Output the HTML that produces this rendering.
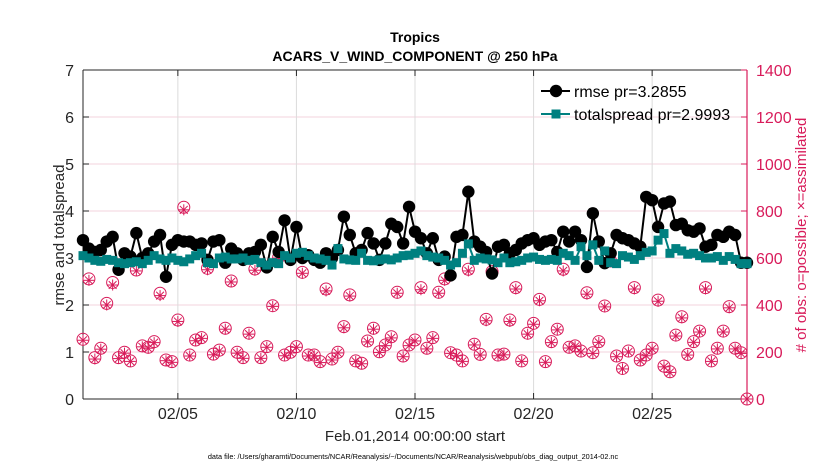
<!DOCTYPE html>
<html><head><meta charset="utf-8"><style>
body{margin:0;background:#fff;}
svg{display:block;font-family:"Liberation Sans",Helvetica,Arial,sans-serif;}
</style></head><body>
<svg id="chart" width="830" height="470" viewBox="0 0 830 470" xmlns="http://www.w3.org/2000/svg">
<text x="415" y="42" text-anchor="middle" font-size="14" font-weight="bold" fill="#000">Tropics</text>
<text x="415" y="61" text-anchor="middle" font-size="14" font-weight="bold" fill="#000">ACARS_V_WIND_COMPONENT @ 250 hPa</text>
<g id="grid"></g>
<g id="axes"></g>
<g id="marks"></g>
<text transform="translate(64,235) rotate(-90)" text-anchor="middle" font-size="15" fill="#262626">rmse and totalspread</text>
<text transform="translate(806,235) rotate(-90)" text-anchor="middle" font-size="15" fill="#d81b5a">#  of obs: o=possible; ×=assimilated</text>
<text x="415" y="441" text-anchor="middle" font-size="15" fill="#262626">Feb.01,2014 00:00:00 start</text>
<text x="413" y="459" text-anchor="middle" font-size="7.3" fill="#000">data file: /Users/gharamti/Documents/NCAR/Reanalysis/~/Documents/NCAR/Reanalysis/webpub/obs_diag_output_2014-02.nc</text>
<g id="legend"></g>
</svg>
<script>
const xTickLabels = ["02/05","02/10","02/15","02/20","02/25"];
const xTickDays = [4,9,14,19,24];
const leftTicks = [0,1,2,3,4,5,6,7];
const rightTicks = [0,200,400,600,800,1000,1200,1400];
const rmse = [3.38,3.2,3.13,3.17,3.35,3.45,2.75,3.1,3.03,3.53,
3.0,3.1,3.35,3.49,2.6,3.28,3.38,3.35,3.35,3.28,
3.31,2.96,3.35,3.38,2.9,3.2,3.1,2.96,3.1,3.13,
3.28,2.8,3.45,3.13,3.8,2.96,3.66,3.0,3.06,
2.96,2.9,3.1,3.0,3.17,3.88,3.49,3.1,3.17,3.53,3.31,
2.96,3.31,3.73,3.66,3.31,4.09,3.56,3.42,3.1,3.42,
2.96,3.03,2.63,3.45,3.49,4.41,3.35,3.24,3.13,2.67,
3.24,3.28,3.1,3.17,3.31,3.38,3.42,
3.28,3.35,3.38,3.13,3.56,3.35,3.56,3.38,2.81,3.95,
3.35,2.89,3.1,3.49,3.42,3.38,3.31,3.24,4.3,4.23,
3.66,4.16,4.2,3.7,3.73,3.59,3.56,3.63,3.24,3.28,
3.49,3.45,3.56,3.49,2.9,2.9];
const spread = [3.05,3.0,2.95,2.93,2.97,2.95,2.9,2.88,2.9,2.92,
2.88,2.95,3.05,2.98,2.95,3.0,2.95,2.92,2.98,3.05,
3.1,2.9,2.88,3.0,3.02,2.98,2.98,3.0,2.95,2.97,
2.9,2.85,2.9,2.88,3.05,3.0,3.1,3.12,3.05,
3.0,2.98,2.95,2.85,3.2,2.98,2.96,2.95,3.1,2.95,2.94,
2.96,2.98,2.96,3.0,3.05,3.06,3.1,3.15,3.05,3.02,
3.0,2.95,2.85,2.9,3.1,3.3,2.95,3.0,2.98,2.96,
2.9,3.0,2.9,2.92,2.95,3.0,3.02,
2.97,2.95,2.97,2.95,3.1,3.05,2.95,3.24,3.05,3.28,
2.95,3.15,2.9,2.88,3.05,3.02,2.97,3.05,3.12,3.15,
3.38,3.52,3.1,3.2,3.15,3.08,3.1,3.05,3.0,3.0,
3.03,2.95,3.03,2.97,2.88,2.88];
const obsPossible = [254,511,176,216,407,496,176,199,162,549,226,220,244,450,166,159,336,816,187,251,261,556,191,208,301,502,199,176,280,553,176,223,397,603,187,199,223,539,187,
187,159,468,170,199,308,443,162,152,247,301,201,230,265,454,183,230,251,474,216,261,454,511,197,187,162,552,233,190,339,542,187,191,336,474,162,280,322,424,
159,244,297,552,220,226,204,452,197,244,396,587,183,130,204,474,166,187,216,421,140,116,272,350,190,244,289,474,162,216,289,393,216,197,0];
const obsAssim = [250,505,170,212,400,485,172,195,160,545,222,216,240,440,163,156,330,805,183,248,258,550,188,204,297,498,195,173,276,548,173,220,394,600,184,196,220,535,183,
184,155,460,166,196,303,438,160,150,243,297,198,227,260,450,180,227,247,465,213,258,450,505,194,184,160,545,230,187,333,538,184,188,330,468,160,276,318,418,
156,240,294,545,217,223,200,446,194,241,392,584,180,128,200,468,163,184,213,416,137,113,268,345,187,241,285,468,160,213,285,388,213,194,0];

const L=83,R=747,T=70,B=399;
const nDays=28;
const xs=d=>L+(d/nDays)*(R-L);
const yl=v=>B-(v/7)*(B-T);
const yr=v=>B-(v/1400)*(B-T);
const NS="http://www.w3.org/2000/svg";
function mk(tag,attrs,parent){const e=document.createElementNS(NS,tag);for(const k in attrs)e.setAttribute(k,attrs[k]);parent.appendChild(e);return e;}
const grid=document.getElementById('grid'),axes=document.getElementById('axes'),marks=document.getElementById('marks'),legend=document.getElementById('legend');
const pink="#d81b5a";
rightTicks.forEach(t=>{if(t===0||t===1400)return;const g=mk('line',{x1:L,x2:R,y1:yr(t),y2:yr(t),stroke:"#f3d3de","stroke-width":1},grid);

});
xTickDays.forEach(d=>{const g=mk('line',{x1:xs(d),x2:xs(d),y1:T,y2:B,stroke:"#dcdcdc","stroke-width":1},grid);

});
mk('line',{x1:L,x2:R,y1:T,y2:T,stroke:"#262626"},axes);
mk('line',{x1:L,x2:R,y1:B,y2:B,stroke:"#262626"},axes);
mk('line',{x1:L,x2:L,y1:T,y2:B,stroke:"#262626"},axes);
mk('line',{x1:R,x2:R,y1:T,y2:B,stroke:pink,"stroke-width":1.2},axes);
leftTicks.forEach(t=>{mk('line',{x1:L,x2:L+6,y1:yl(t),y2:yl(t),stroke:"#262626"},axes);
const tx=mk('text',{x:L-9,y:yl(t)+6,"text-anchor":"end","font-size":16,fill:"#262626"},axes);tx.textContent=t;

});
rightTicks.forEach(t=>{mk('line',{x1:R-6,x2:R,y1:yr(t),y2:yr(t),stroke:pink},axes);
const tx=mk('text',{x:R+9,y:yr(t)+6,"font-size":16,fill:pink},axes);tx.textContent=t;

});
xTickDays.forEach((d,i)=>{mk('line',{x1:xs(d),x2:xs(d),y1:B,y2:B-6,stroke:"#262626"},axes);mk('line',{x1:xs(d),x2:xs(d),y1:T,y2:T+6,stroke:"#262626"},axes);
const tx=mk('text',{x:xs(d),y:419,"text-anchor":"middle","font-size":16,fill:"#262626"},axes);tx.textContent=xTickLabels[i];

});
const dayOf=i=>i*0.25;
function star(cx,cy,r,p){for(let k=0;k<4;k++){const a=k*Math.PI/4;mk('line',{x1:cx-r*Math.cos(a),y1:cy-r*Math.sin(a),x2:cx+r*Math.cos(a),y2:cy+r*Math.sin(a),stroke:pink,"stroke-width":1},p);}}
obsPossible.forEach((v,i)=>{const c=mk('circle',{cx:xs(dayOf(i)),cy:yr(v),r:6,fill:"none",stroke:pink,"stroke-width":1},marks);

});
obsAssim.forEach((v,i)=>{const g=mk('g',{},marks);


star(xs(dayOf(i)),yr(v),5.5,g);});
const sp=mk('polyline',{points:spread.map((v,i)=>xs(dayOf(i))+","+yl(v)).join(" "),fill:"none",stroke:"#008080","stroke-width":2},marks);


const rl=mk('polyline',{points:rmse.map((v,i)=>xs(dayOf(i))+","+yl(v)).join(" "),fill:"none",stroke:"#000","stroke-width":2},marks);


rmse.forEach((v,i)=>{const c=mk('circle',{cx:xs(dayOf(i)),cy:yl(v),r:6.2,fill:"#000"},marks);

});
spread.forEach((v,i)=>{const s=mk('rect',{x:xs(dayOf(i))-4.5,y:yl(v)-4.5,width:9,height:9,fill:"#008080"},marks);

});
mk('line',{x1:541,x2:570,y1:91,y2:91,stroke:"#000","stroke-width":2},legend);
mk('circle',{cx:556,cy:91,r:6.2,fill:"#000"},legend);
const t1=mk('text',{x:574,y:97,"font-size":16,fill:"#000"},legend);t1.textContent="rmse pr=3.2855";


mk('line',{x1:541,x2:570,y1:114,y2:114,stroke:"#008080","stroke-width":2},legend);
mk('rect',{x:551.5,y:109.5,width:9,height:9,fill:"#008080"},legend);
const t2=mk('text',{x:574,y:120,"font-size":16,fill:"#000"},legend);t2.textContent="totalspread pr=2.9993";


</script>
</body></html>
